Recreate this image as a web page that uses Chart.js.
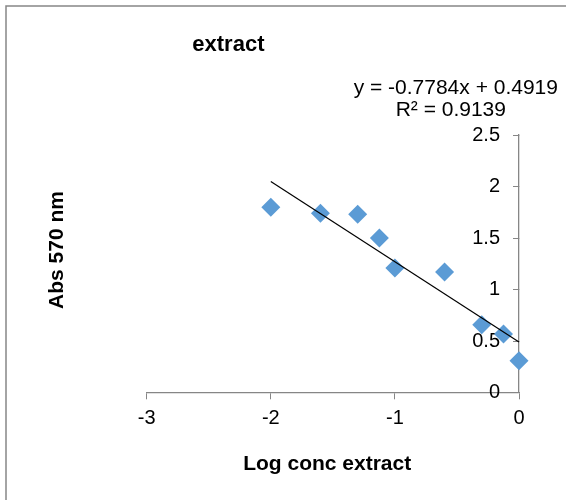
<!DOCTYPE html>
<html>
<head>
<meta charset="utf-8">
<script src="https://cdn.jsdelivr.net/npm/chart.js@4"></script>
<style>
  html, body { margin: 0; padding: 0; background: #fff; }
  #wrap { width: 566px; height: 500px; position: relative; }
</style>
</head>
<body>
<div id="wrap"><canvas id="c" width="566" height="500"></canvas></div>
<script>
// ---- data ----
const logConc = [-2, -1.6, -1.3, -1.125, -1, -0.6, -0.3, -0.125, 0];
const absValues = [1.80, 1.74, 1.73, 1.50, 1.21, 1.17, 0.66, 0.57, 0.31];
const trendX = [-2, 0];
const trendY = [2.049, 0.492];
const chartTitle = 'extract';
const xTitle = 'Log conc extract';
const yTitle = 'Abs 570 nm';
const equationText = 'y = -0.7784x + 0.4919';
const r2Text = 'R² = 0.9139';
const xTicks = [-3, -2, -1, 0];
const yTicks = [0, 0.5, 1, 1.5, 2, 2.5];

const FONT = '"Liberation Sans", Arial, sans-serif';

const textPlugin = {
  id: 'texts',
  beforeDraw(chart) {
    const ctx = chart.ctx;
    ctx.save();
    ctx.strokeStyle = '#868686';
    ctx.lineWidth = 1.5;
    ctx.strokeRect(6, 6, 700, 700);
    ctx.restore();
  },
  afterDraw(chart) {
    const ctx = chart.ctx;
    ctx.save();
    ctx.fillStyle = '#000';
    ctx.textAlign = 'center';
    ctx.textBaseline = 'alphabetic';
    ctx.font = 'bold 22px ' + FONT;
    ctx.fillText(chartTitle, 228.4, 51);
    ctx.font = '21px ' + FONT;
    ctx.fillText(equationText, 455.8, 94);
    ctx.fillText(r2Text, 450.8, 116);
    ctx.font = 'bold 21px ' + FONT;
    ctx.fillText(xTitle, 327.2, 470);
    ctx.translate(63, 250);
    ctx.rotate(-Math.PI / 2);
    ctx.fillText(yTitle, 0, 0);
    ctx.restore();
  }
};

new Chart(document.getElementById('c'), {
  type: 'scatter',
  data: {
    datasets: [
      {
        label: 'Trend',
        data: trendX.map((x, i) => ({ x: x, y: trendY[i] })),
        showLine: true,
        borderColor: '#000',
        borderWidth: 1.2,
        pointRadius: 0,
        fill: false,
        order: 0,
        clip: false
      },
      {
        label: 'extract',
        data: logConc.map((x, i) => ({ x: x, y: absValues[i] })),
        pointStyle: 'rectRot',
        pointRadius: 9.5,
        pointHoverRadius: 9.5,
        backgroundColor: '#5B9BD5',
        borderColor: '#5B9BD5',
        borderWidth: 0,
        order: 1,
        clip: false
      }
    ]
  },
  options: {
    responsive: false,
    animation: false,
    devicePixelRatio: 1,
    layout: { padding: { left: 146.7, top: 135, right: 47, bottom: 107.3 } },
    plugins: {
      legend: { display: false },
      tooltip: { enabled: false },
      title: { display: false }
    },
    scales: {
      x: {
        type: 'linear',
        position: { y: 0 },
        min: -3, max: 0,
        afterBuildTicks(scale) { scale.ticks = xTicks.map(v => ({ value: v })); },
        grid: { display: true, drawOnChartArea: false, drawTicks: true, tickLength: 6, color: '#868686', lineWidth: 1 },
        border: { display: true, color: '#868686', width: 1.3 },
        ticks: { color: '#000', font: { family: FONT, size: 20 }, padding: 8, maxRotation: 0,
                 callback: v => String(v) }
      },
      y: {
        type: 'linear',
        position: 'right',
        min: 0, max: 2.5,
        afterBuildTicks(scale) { scale.ticks = yTicks.map(v => ({ value: v })); },
        afterFit(scale) { scale.width = 0; },
        grid: { display: true, drawOnChartArea: false, drawTicks: true, tickLength: -6, color: '#868686', lineWidth: 1 },
        border: { display: true, color: '#868686', width: 1.3 },
        ticks: { color: '#000', font: { family: FONT, size: 20 }, padding: -19, mirror: true,
                 callback: v => String(v) }
      }
    }
  },
  plugins: [textPlugin]
});
</script>
</body>
</html>
